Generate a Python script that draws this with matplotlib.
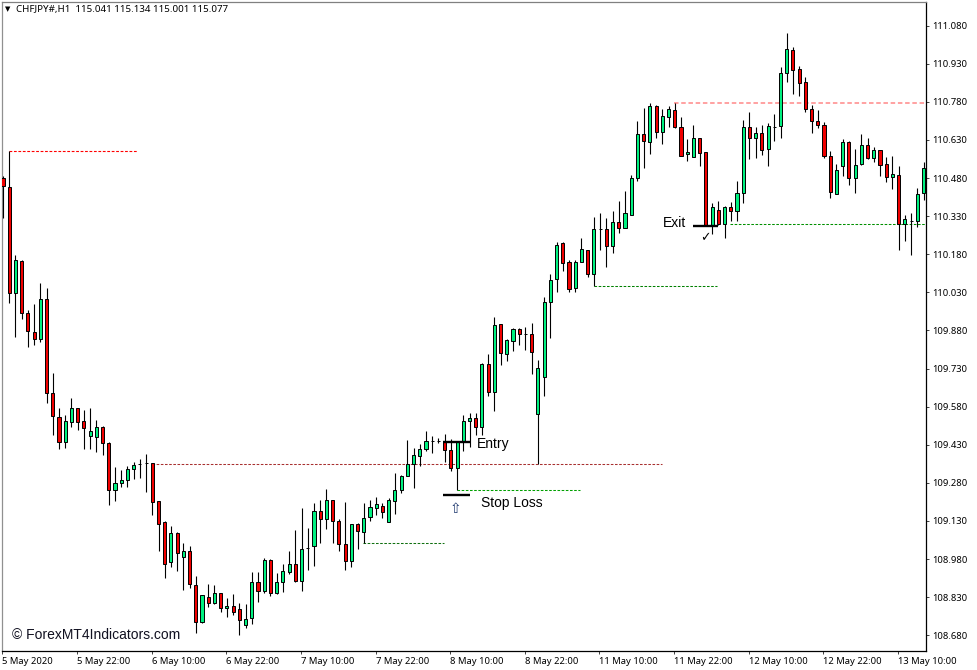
"""CHFJPY H1 candlestick chart with entry, stop loss and exit annotations."""
import numpy as np
import matplotlib
matplotlib.use("Agg")
import matplotlib.pyplot as plt

# candle values, one per H1 bar
opens = [
    110.479, 110.444, 110.026, 110.155, 109.948, 109.873, 109.845, 110.005, 109.635, 109.540,
    109.442, 109.521, 109.574, 109.525, 109.466, 109.462, 109.499, 109.436, 109.252, 109.281,
    109.291, 109.333, 109.353, 109.357, 109.357, 109.209, 109.125, 108.967, 109.084, 108.987,
    109.011, 108.879, 108.731, 108.829, 108.806, 108.845, 108.786, 108.796, 108.782, 108.719,
    108.747, 108.888, 108.855, 108.975, 108.845, 108.888, 108.930, 108.959, 108.893, 109.022,
    109.031, 109.169, 109.137, 109.211, 109.129, 109.038, 108.971, 109.117, 109.087, 109.144,
    109.182, 109.188, 109.125, 109.210, 109.252, 109.307, 109.355, 109.387, 109.415, 109.445,
    109.446, 109.442, 109.408, 109.337, 109.442, 109.525, 109.534, 109.501, 109.748, 109.639,
    109.904, 109.787, 109.840, 109.885, 109.867, 109.865, 109.552, 109.698, 109.991, 110.081,
    110.223, 110.148, 110.046, 110.151, 110.197, 110.101, 110.279, 110.278, 110.212, 110.308,
    110.285, 110.335, 110.479, 110.652, 110.621, 110.764, 110.660, 110.722, 110.748, 110.681,
    110.574, 110.564, 110.637, 110.581, 110.295, 110.354, 110.298, 110.365, 110.352, 110.420,
    110.681, 110.639, 110.656, 110.593, 110.682, 110.684, 110.892, 110.984, 110.908, 110.857,
    110.751, 110.703, 110.688, 110.566, 110.418, 110.526, 110.623, 110.479, 110.534, 110.611,
    110.558, 110.589, 110.534, 110.485, 110.491, 110.299, 110.310, 110.310, 110.421,
]
closes = [
    110.449, 110.026, 110.157, 109.948, 109.877, 109.845, 110.005, 109.635, 109.543, 109.440,
    109.525, 109.574, 109.521, 109.495, 109.485, 109.499, 109.436, 109.252, 109.278, 109.290,
    109.333, 109.349, 109.353, 109.357, 109.206, 109.117, 108.962, 109.084, 109.004, 109.011,
    108.881, 108.731, 108.837, 108.806, 108.845, 108.786, 108.794, 108.773, 108.741, 108.744,
    108.888, 108.853, 108.975, 108.845, 108.888, 108.932, 108.959, 108.892, 109.020, 109.022,
    109.169, 109.139, 109.211, 109.129, 109.040, 108.971, 109.117, 109.092, 109.142, 109.184,
    109.197, 109.164, 109.211, 109.252, 109.307, 109.355, 109.389, 109.415, 109.444, 109.445,
    109.446, 109.408, 109.337, 109.440, 109.525, 109.534, 109.501, 109.748, 109.639, 109.900,
    109.790, 109.842, 109.885, 109.867, 109.867, 109.794, 109.732, 109.991, 110.079, 110.215,
    110.147, 110.043, 110.148, 110.201, 110.102, 110.279, 110.279, 110.212, 110.308, 110.282,
    110.341, 110.479, 110.652, 110.627, 110.762, 110.663, 110.724, 110.751, 110.680, 110.568,
    110.584, 110.639, 110.577, 110.295, 110.365, 110.298, 110.365, 110.351, 110.420, 110.682,
    110.637, 110.656, 110.590, 110.684, 110.682, 110.892, 110.987, 110.904, 110.853, 110.751,
    110.706, 110.690, 110.568, 110.424, 110.513, 110.623, 110.479, 110.530, 110.611, 110.559,
    110.589, 110.530, 110.483, 110.495, 110.299, 110.318, 110.310, 110.418, 110.518,
]
highs = [
    110.488, 110.588, 110.176, 110.157, 109.961, 109.984, 110.066, 110.048, 109.711, 109.574,
    109.546, 109.614, 109.575, 109.567, 109.574, 109.527, 109.504, 109.441, 109.341, 109.331,
    109.346, 109.362, 109.373, 109.394, 109.358, 109.209, 109.130, 109.110, 109.087, 109.044,
    109.031, 108.913, 108.838, 108.882, 108.878, 108.848, 108.825, 108.842, 108.806, 108.803,
    108.928, 108.929, 108.984, 108.980, 108.924, 108.959, 109.012, 109.094, 109.180, 109.101,
    109.200, 109.213, 109.256, 109.213, 109.139, 109.204, 109.118, 109.122, 109.200, 109.213,
    109.223, 109.200, 109.219, 109.318, 109.311, 109.449, 109.416, 109.433, 109.484, 109.465,
    109.455, 109.472, 109.453, 109.445, 109.547, 109.556, 109.554, 109.752, 109.787, 109.932,
    109.905, 109.846, 109.890, 109.888, 109.892, 109.908, 109.764, 110.011, 110.102, 110.227,
    110.229, 110.157, 110.157, 110.243, 110.197, 110.325, 110.341, 110.322, 110.352, 110.390,
    110.429, 110.492, 110.705, 110.755, 110.774, 110.768, 110.751, 110.764, 110.777, 110.722,
    110.633, 110.689, 110.638, 110.583, 110.381, 110.390, 110.370, 110.387, 110.468, 110.709,
    110.739, 110.682, 110.689, 110.696, 110.732, 110.916, 111.052, 110.995, 110.921, 110.877,
    110.768, 110.748, 110.701, 110.586, 110.535, 110.634, 110.626, 110.594, 110.653, 110.639,
    110.602, 110.590, 110.564, 110.567, 110.529, 110.336, 110.344, 110.440, 110.543,
]
lows = [
    110.323, 109.987, 109.855, 109.926, 109.814, 109.824, 109.835, 109.596, 109.468, 109.413,
    109.418, 109.499, 109.488, 109.415, 109.413, 109.403, 109.390, 109.193, 109.209, 109.265,
    109.263, 109.294, 109.299, 109.245, 109.153, 109.012, 108.907, 108.950, 108.933, 108.858,
    108.867, 108.690, 108.727, 108.793, 108.803, 108.770, 108.753, 108.760, 108.681, 108.710,
    108.724, 108.812, 108.848, 108.836, 108.842, 108.852, 108.921, 108.891, 108.855, 108.937,
    108.954, 109.044, 109.099, 109.044, 109.013, 108.938, 108.948, 109.020, 109.042, 109.130,
    109.153, 109.140, 109.125, 109.156, 109.239, 109.307, 109.261, 109.346, 109.407, 109.396,
    109.437, 109.363, 109.328, 109.252, 109.407, 109.422, 109.468, 109.468, 109.622, 109.563,
    109.744, 109.761, 109.800, 109.823, 109.803, 109.707, 109.353, 109.622, 109.851, 110.033,
    110.115, 110.030, 110.030, 110.151, 110.092, 110.055, 110.197, 110.131, 110.184, 110.265,
    110.283, 110.335, 110.470, 110.521, 110.575, 110.639, 110.614, 110.680, 110.677, 110.567,
    110.548, 110.563, 110.529, 110.291, 110.259, 110.295, 110.245, 110.311, 110.311, 110.383,
    110.555, 110.558, 110.572, 110.529, 110.626, 110.638, 110.859, 110.811, 110.803, 110.741,
    110.659, 110.678, 110.560, 110.403, 110.417, 110.488, 110.453, 110.422, 110.533, 110.554,
    110.544, 110.488, 110.464, 110.438, 110.197, 110.233, 110.177, 110.289, 110.392,
]

price_ticks = [111.08, 110.93, 110.78, 110.63, 110.48, 110.33, 110.18, 110.03,
               109.88, 109.73, 109.58, 109.43, 109.28, 109.13, 108.98, 108.83, 108.68]
time_labels = ["5 May 2020", "5 May 22:00", "6 May 10:00", "6 May 22:00", "7 May 10:00",
               "7 May 22:00", "8 May 10:00", "8 May 22:00", "11 May 10:00", "11 May 22:00",
               "12 May 10:00", "12 May 22:00", "13 May 10:00"]

# dotted levels: price, first bar, last bar, colour, width
level_prices = [110.588, 109.356, 109.042, 109.252, 110.055, 110.776, 110.298]
level_starts = [0.9, 24, 57.9, 73, 95, 107.9, 116.9]
level_ends = [21.5, 105.9, 70.9, 92.8, 114.8, 148.4, 148.4]
level_colors = ["#ff0000", "#a83030", "#107010", "#00a000", "#008000", "#ff9a9a", "#009000"]
level_widths = [0.8, 0.75, 0.75, 0.75, 0.75, 1.3, 0.75]

# thick trade marks
mark_prices = [109.442, 109.232, 110.293]
mark_starts = [70.7, 70.7, 110.9]
mark_ends = [75, 75, 115]

W, H = 977, 670
BAR_PX = 6.22
LEFT, RIGHT, TOP, BOTTOM = 2, 926, 2, 651
UI_FONT = "Noto Sans"
NOTE_FONT = "Liberation Sans"

fig = plt.figure(figsize=(W / 100, H / 100), dpi=100, facecolor="white")
ax = fig.add_axes([LEFT / W, 1 - BOTTOM / H, (RIGHT - LEFT) / W, (BOTTOM - TOP) / H])
ax.set_xlim((LEFT - 3) / BAR_PX, (RIGHT - 3) / BAR_PX)
ax.set_ylim(108.618, 111.173)

o = np.array(opens)
c = np.array(closes)
bars = np.arange(len(o))
colors = np.where(c >= o, "#00f080", "#f00000")

ax.vlines(bars, lows, highs, color="black", lw=0.8, zorder=3)
ax.bar(bars, c - o, bottom=o, width=0.5, color=colors, edgecolor="black", linewidth=0.7, zorder=4)

for p, s, e, col, lw in zip(level_prices, level_starts, level_ends, level_colors, level_widths):
    ax.plot([s, e], [p, p], color=col, lw=lw, ls=(0, (2.5, 1.5)), zorder=2)
for p, s, e in zip(mark_prices, mark_starts, mark_ends):
    ax.plot([s, e], [p, p], color="black", lw=1.7, solid_capstyle="butt", zorder=5)

ax.text(76.2, 109.432, "Entry", fontsize=10, family=NOTE_FONT, va="center")
ax.text(76.9, 109.202, "Stop Loss", fontsize=10, family=NOTE_FONT, va="center")
ax.text(106.1, 110.303, "Exit", fontsize=10, family=NOTE_FONT, va="center")
ax.text(72.8, 109.177, "\u21e7", fontsize=10, color="#203a70", family="DejaVu Sans", ha="center", va="center")
ax.text(112.9, 110.244, "\u2713", fontsize=9, color="black", family="DejaVu Sans", ha="center", va="center")

fig.text(12 / W, 1 - 635 / H, "\u00a9 ForexMT4Indicators.com", fontsize=10,
         family=NOTE_FONT, va="center", color="#101020")
fig.text(5 / W, 1 - 9.5 / H, "\u25bc", fontsize=5, family="DejaVu Sans", va="center")
fig.text(16.5 / W, 1 - 9.5 / H, "CHFJPY#,H1  115.041 115.134 115.001 115.077", fontsize=7,
         family=UI_FONT, va="center")

ax.yaxis.tick_right()
ax.set_yticks(price_ticks)
ax.set_yticklabels([f"{p:.3f}" for p in price_ticks], fontsize=6.8, family=UI_FONT)
ax.set_xticks(np.arange(len(time_labels)) * 12 - 0.1)
ax.set_xticklabels(time_labels, fontsize=6.8, family=UI_FONT, ha="left")
ax.tick_params(axis="both", length=2.2, width=0.7, color="#404040", pad=2)

ax.spines["right"].set_color("black")
ax.spines["bottom"].set_color("black")
ax.spines["left"].set_color("#909090")
ax.spines["top"].set_color("#808080")
for side in ax.spines:
    ax.spines[side].set_linewidth(0.9)

fig.savefig("out.png", dpi=100)
